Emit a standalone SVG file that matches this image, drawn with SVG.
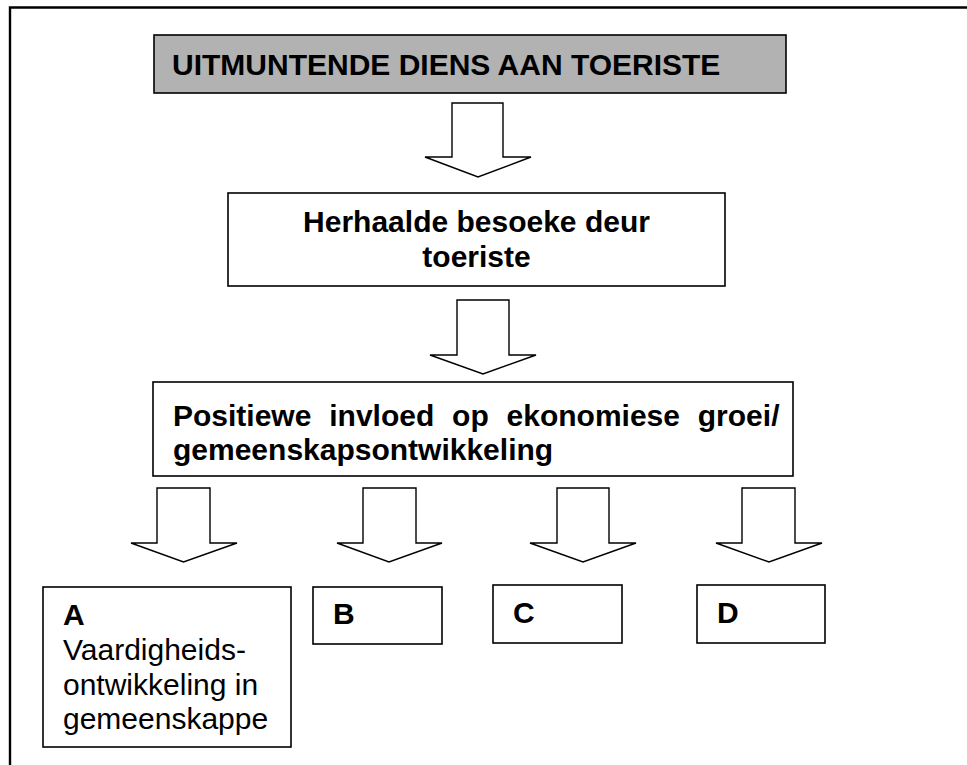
<svg xmlns="http://www.w3.org/2000/svg" width="967" height="765" viewBox="0 0 967 765">
<style>
  .box { fill: #ffffff; stroke: #000000; stroke-width: 1.6; }
  .grey { fill: #b2b2b2; stroke: #000000; stroke-width: 1.6; }
  .arrow { fill: #ffffff; stroke: #000000; stroke-width: 1.4; stroke-linejoin: miter; }
  .b { font-family: "Liberation Sans", Arial, sans-serif; font-weight: bold; font-size: 30px; fill: #000000; }
  .r { font-family: "Liberation Sans", Arial, sans-serif; font-size: 30px; fill: #000000; }
  .frame { stroke: #000000; stroke-width: 2.4; fill: none; }
</style>
<rect x="0" y="0" width="967" height="765" fill="#ffffff"/>
<g id="frame">
  <polyline class="frame" points="10,765 10,7.5 967,7.5"/>
</g>
<g id="node-top">
  <rect class="grey" x="154" y="35" width="632" height="58"/>
  <text class="b" x="172" y="75">UITMUNTENDE DIENS AAN TOERISTE</text>
</g>
<g id="node-herhaalde">
  <rect class="box" x="228" y="193" width="497" height="93"/>
  <text class="b" x="476.5" y="232" text-anchor="middle">Herhaalde besoeke deur</text>
  <text class="b" x="476.5" y="267" text-anchor="middle">toeriste</text>
</g>
<g id="node-positiewe">
  <rect class="box" x="153" y="382" width="640" height="94"/>
  <text class="b" x="173" y="426" word-spacing="9.5">Positiewe invloed op ekonomiese groei/</text>
  <text class="b" x="173" y="460">gemeenskapsontwikkeling</text>
</g>
<g id="node-A">
  <rect class="box" x="43" y="587" width="248" height="160"/>
  <text class="b" x="63" y="625">A</text>
  <text class="r" x="63" y="660">Vaardigheids-</text>
  <text class="r" x="63" y="694.5">ontwikkeling in</text>
  <text class="r" x="63" y="729">gemeenskappe</text>
</g>
<g id="node-B">
  <rect class="box" x="313" y="587" width="129" height="57"/>
  <text class="b" x="333" y="624">B</text>
</g>
<g id="node-C">
  <rect class="box" x="493" y="585" width="129" height="58"/>
  <text class="b" x="513" y="623">C</text>
</g>
<g id="node-D">
  <rect class="box" x="697" y="585" width="128" height="58"/>
  <text class="b" x="717" y="623">D</text>
</g>
<g id="connectors">
  <polygon class="arrow" points="452,103 503,103 503,157 531,157 478,177 425,157 452,157"/>
  <polygon class="arrow" points="457,300 509,300 509,355 536,355 483,374 430,355 457,355"/>
  <polygon class="arrow" points="157,488 210,488 210,543 237,543 183.5,562 131,543 157,543"/>
  <polygon class="arrow" points="363,488 416,488 416,543 442,543 389,562 337,543 363,543"/>
  <polygon class="arrow" points="557,488 609,488 609,543 636,543 583,562 530,543 557,543"/>
  <polygon class="arrow" points="742,488 795,488 795,543 822,543 769,562 716,543 742,543"/>
</g>
</svg>
